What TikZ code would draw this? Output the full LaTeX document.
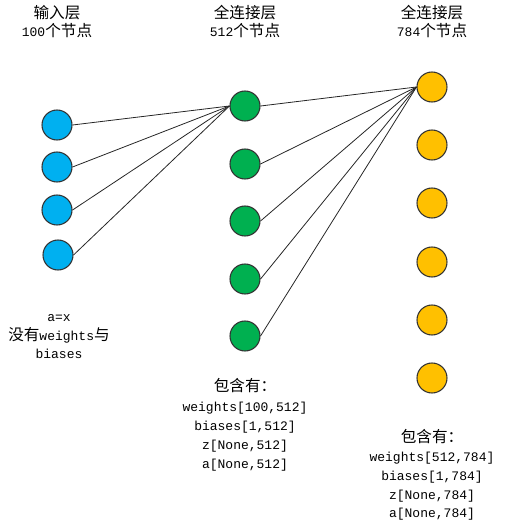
\documentclass[tikz,border=0pt]{standalone}
\usepackage{fontspec}
\setmainfont{Liberation Mono}
\newfontfamily\cjk[Scale=1.2]{Noto Sans CJK SC}
\definecolor{inblue}{HTML}{00B0F0}
\definecolor{fcgreen}{HTML}{00B050}
\definecolor{outyellow}{HTML}{FFC000}
\tikzset{
  neuron/.style={circle,draw=black!80,line width=0.8pt,minimum size=22.5pt,inner sep=0pt},
  lbl/.style={inner sep=0pt,font=\fontsize{9.75pt}{12pt}\selectfont,text height=0.75em,text depth=0.25em},
  link/.style={line width=0.6pt,black!85}
}
\begin{document}
\begin{tikzpicture}[x=0.75pt,y=-0.75pt]
\useasboundingbox (0,0) rectangle (514,531);
% input layer
\node[neuron,fill=inblue] (b1) at (57,125) {};
\node[neuron,fill=inblue] (b2) at (57,167) {};
\node[neuron,fill=inblue] (b3) at (57,210) {};
\node[neuron,fill=inblue] (b4) at (58,255) {};
% first full layer
\node[neuron,fill=fcgreen] (g1) at (245,106) {};
\node[neuron,fill=fcgreen] (g2) at (245,164) {};
\node[neuron,fill=fcgreen] (g3) at (245,221) {};
\node[neuron,fill=fcgreen] (g4) at (245,279) {};
\node[neuron,fill=fcgreen] (g5) at (245,336) {};
% second full layer
\node[neuron,fill=outyellow] (y1) at (432,87) {};
\node[neuron,fill=outyellow] (y2) at (432,145) {};
\node[neuron,fill=outyellow] (y3) at (432,203) {};
\node[neuron,fill=outyellow] (y4) at (432,262) {};
\node[neuron,fill=outyellow] (y5) at (432,320) {};
\node[neuron,fill=outyellow] (y6) at (432,378) {};

\draw[link] (b1.east) -- (g1.west);
\draw[link] (b2.east) -- (g1.west);
\draw[link] (b3.east) -- (g1.west);
\draw[link] (b4.east) -- (g1.west);
\draw[link] (g1.east) -- (y1.west);
\draw[link] (g2.east) -- (y1.west);
\draw[link] (g3.east) -- (y1.west);
\draw[link] (g4.east) -- (y1.west);
\draw[link] (g5.east) -- (y1.west);

% titles
\node[lbl] (t1a) at (57,15) {\cjk 输入层};
\node[lbl] (t1b) at (57,33) {100{\cjk 个节点}};
\node[lbl] (t2a) at (245,15) {\cjk 全连接层};
\node[lbl] (t2b) at (245,33) {512{\cjk 个节点}};
\node[lbl] (t3a) at (432,15) {\cjk 全连接层};
\node[lbl] (t3b) at (432,33) {784{\cjk 个节点}};

% notes
\node[lbl] (n1a) at (59,318) {a=x};
\node[lbl] (n1b) at (59,337) {{\cjk 没有}weights{\cjk 与}};
\node[lbl] (n1c) at (59,355) {biases};

\node[lbl] (n2a) at (245,388) {\cjk 包含有：};
\node[lbl] (n2b) at (245,408) {weights[100,512]};
\node[lbl] (n2c) at (245,427) {biases[1,512]};
\node[lbl] (n2d) at (245,446) {z[None,512]};
\node[lbl] (n2e) at (245,465) {a[None,512]};

\node[lbl] (n3a) at (432,439) {\cjk 包含有：};
\node[lbl] (n3b) at (432,458) {weights[512,784]};
\node[lbl] (n3c) at (432,477) {biases[1,784]};
\node[lbl] (n3d) at (432,496) {z[None,784]};
\node[lbl] (n3e) at (432,514) {a[None,784]};
\end{tikzpicture}
\end{document}
